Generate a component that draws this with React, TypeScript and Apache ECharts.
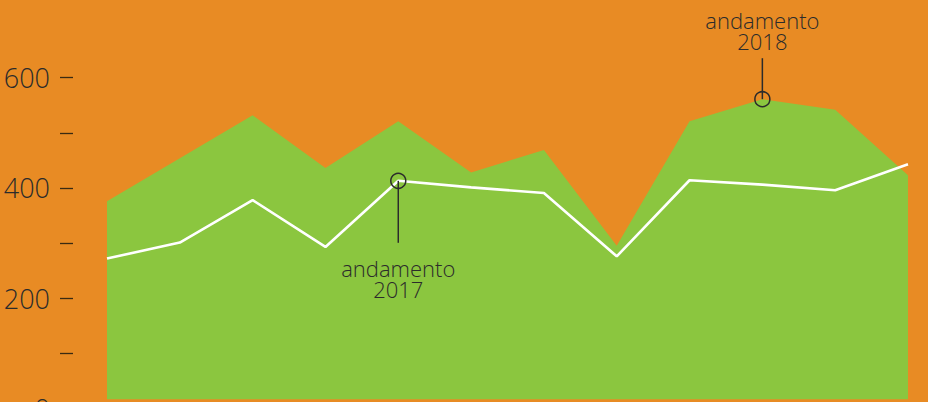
import React, { useEffect, useRef } from "react";
import * as echarts from "echarts";

const categories = ["Gen", "Feb", "Mar", "Apr", "Mag", "Giu", "Lug", "Ago", "Set", "Ott", "Nov", "Dic"];
const values2018 = [376, 454, 532, 436, 521, 428, 469, 295, 521, 561, 542, 423];
const values2017 = [272, 301, 378, 293, 413, 401, 391, 276, 414, 406, 396, 443];
const labelEvery = 200;
const annotation2017 = { index: 4, word: "andamento", year: "2017" };
const annotation2018 = { index: 9, word: "andamento", year: "2018" };

const ORANGE = "#E88B24";
const GREEN = "#8BC63F";
const INK = "#2b2b2b";
const FONT = "'Open Sans', Lato, sans-serif";

export default function App() {
  const ref = useRef<HTMLDivElement>(null);
  useEffect(() => {
    if (!ref.current) return;
    const chart = echarts.init(ref.current, null, { renderer: "svg" });
    chart.setOption({
      animation: false,
      backgroundColor: ORANGE,
      grid: {
        left: 107,
        right: 20,
        top: 77.7,
        height: 330.8,
        containLabel: false,
        outerBoundsMode: "none",
      },
      xAxis: {
        type: "category",
        data: categories,
        boundaryGap: false,
        show: false,
      },
      yAxis: {
        type: "value",
        min: 0,
        max: 600,
        interval: 100,
        offset: 34,
        axisLine: { show: false },
        splitLine: { show: false },
        axisTick: { show: true, length: 13, lineStyle: { color: "#3a2a12", width: 1.3 } },
        axisLabel: {
          margin: 23,
          fontSize: 27,
          fontWeight: 300,
          fontFamily: FONT,
          color: INK,
          formatter: (v: number) => (v % labelEvery === 0 ? String(v) : ""),
        },
      },
      series: [
        {
          name: "2018",
          type: "line",
          data: values2018,
          symbol: "none",
          lineStyle: { width: 0 },
          areaStyle: { color: GREEN, opacity: 1, origin: 17 },
          z: 1,
        },
        {
          name: "2017",
          type: "line",
          data: values2017,
          symbol: "none",
          lineStyle: { color: "#ffffff", width: 2.6 },
          z: 2,
        },
      ],
    });

    const p17 = chart.convertToPixel({ seriesIndex: 1 }, [annotation2017.index, values2017[annotation2017.index]]) as number[];
    const p18 = chart.convertToPixel({ seriesIndex: 0 }, [annotation2018.index, values2018[annotation2018.index]]) as number[];

    const textStyle = {
      fill: INK,
      fontSize: 22,
      fontWeight: 300,
      fontFamily: FONT,
      textAlign: "center",
      textVerticalAlign: "middle",
    };

    chart.setOption({
      graphic: [
        {
          type: "line",
          shape: { x1: p17[0], y1: p17[1], x2: p17[0], y2: p17[1] + 62 },
          style: { stroke: INK, lineWidth: 1.5 },
          z: 10,
        },
        {
          type: "circle",
          shape: { cx: p17[0], cy: p17[1], r: 7.5 },
          style: { fill: "none", stroke: INK, lineWidth: 1.5 },
          z: 10,
        },
        {
          type: "text",
          x: p17[0],
          y: p17[1] + 87,
          style: { ...textStyle, text: annotation2017.word },
          z: 10,
        },
        {
          type: "text",
          x: p17[0],
          y: p17[1] + 108,
          style: { ...textStyle, text: annotation2017.year },
          z: 10,
        },
        {
          type: "line",
          shape: { x1: p18[0], y1: p18[1], x2: p18[0], y2: p18[1] - 41 },
          style: { stroke: INK, lineWidth: 1.5 },
          z: 10,
        },
        {
          type: "circle",
          shape: { cx: p18[0], cy: p18[1], r: 7.5 },
          style: { fill: "none", stroke: INK, lineWidth: 1.5 },
          z: 10,
        },
        {
          type: "text",
          x: p18[0],
          y: p18[1] - 79,
          style: { ...textStyle, text: annotation2018.word },
          z: 10,
        },
        {
          type: "text",
          x: p18[0],
          y: p18[1] - 58,
          style: { ...textStyle, text: annotation2018.year },
          z: 10,
        },
      ],
    });
    return () => chart.dispose();
  }, []);
  return (
    <div
      ref={ref}
      style={{ position: "fixed", left: 0, top: 0, width: 928, height: 402 }}
    />
  );
}
